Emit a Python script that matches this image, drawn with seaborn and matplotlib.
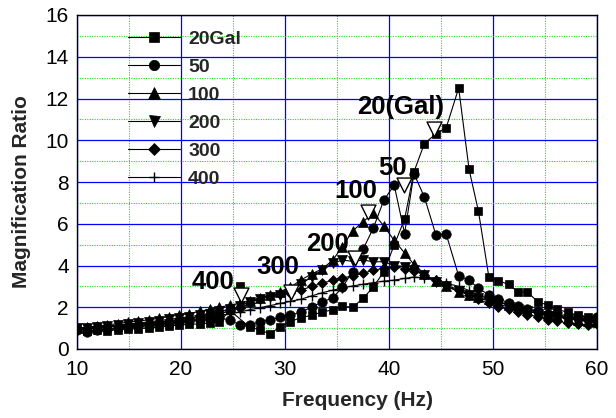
import numpy as np
import pandas as pd
import matplotlib
matplotlib.use("Agg")
import matplotlib.pyplot as plt
import seaborn as sns
from matplotlib.ticker import MultipleLocator

# Sweep frequencies (Hz), shared by all input levels
freq = [10.0, 11.0, 11.9, 12.9, 13.9, 14.9, 15.9, 16.9, 17.9, 18.8,
        19.8, 20.8, 21.8, 22.8, 23.7, 24.7, 25.7, 26.6, 27.6, 28.6,
        29.5, 30.5, 31.5, 32.6, 33.6, 34.6, 35.5, 36.5, 37.5, 38.5,
        39.5, 40.5, 41.5, 42.4, 43.4, 44.5, 45.5, 46.7, 47.7, 48.6,
        49.6, 50.5, 51.5, 52.4, 53.3, 54.3, 55.3, 56.2, 57.2, 58.2,
        59.1, 60.0]

# Magnification ratio for each input acceleration (Gal)
gal20 = [1.00, 0.85, 0.90, 0.88, 0.92, 0.95, 0.98, 1.00, 1.05, 1.10,
         1.15, 1.18, 1.20, 1.25, 1.30, 1.85, np.nan, 1.05, 0.91, 0.72,
         1.07, 1.31, 1.50, 1.62, 1.78, 1.87, 2.05, 2.00, 2.42, 2.98,
         3.70, 4.98, 6.22, 8.49, 9.84, 10.30, 10.60, 12.50, 8.60, 6.60,
         3.46, 3.27, 3.10, 2.72, 2.74, 2.26, 2.10, 1.90, 1.75, 1.62,
         1.52, 1.45]
gal20_stray_f = [25.7]
gal20_stray_v = [3.0]

gal50 = [0.90, 0.80, 0.92, 0.98, 1.00, 1.05, 1.08, 1.12, 1.18, 1.22,
         1.28, 1.32, 1.38, 1.45, 1.50, 1.38, 1.15, 1.15, 1.31, 1.39,
         1.52, 1.63, 1.75, 2.02, 2.26, 2.45, 2.95, 3.70, 4.77, 5.80,
         7.13, 7.85, 5.53, 8.40, 7.28, 5.48, 5.50, 3.50, 3.30, 2.90,
         2.60, 2.40, 2.22, 2.05, 1.92, 1.80, 1.70, 1.62, 1.55, 1.50,
         1.45, 1.55]

gal100 = [1.00, 1.05, 1.10, 1.15, 1.22, 1.28, 1.34, 1.40, 1.48, 1.55,
          1.63, 1.70, 1.80, 1.90, 2.00, 2.10, 2.20, 2.32, 2.45, 2.60,
          2.75, 2.95, 3.30, 3.60, 3.85, 4.26, 4.90, 5.65, 6.10, 6.50,
          5.90, 5.20, 4.60, 4.05, 3.60, 3.25, 3.00, 2.75, 2.60, 2.50,
          2.38, 2.25, 2.12, 2.00, 1.88, 1.78, 1.66, 1.56, 1.48, 1.40,
          1.32, 1.30]

gal200 = [1.00, 1.00, 1.05, 1.10, 1.15, 1.20, 1.25, 1.30, 1.36, 1.42,
          1.48, 1.55, 1.62, 1.70, 1.80, 1.90, 2.05, 2.26, 2.40, 2.50,
          2.60, 2.75, 3.10, 3.46, 3.78, 4.10, 4.26, 4.20, 4.26, 4.18,
          4.18, 4.00, 3.95, 3.80, 3.55, 3.20, 3.00, 2.80, 2.60, 2.45,
          2.30, 2.15, 2.02, 1.90, 1.80, 1.70, 1.60, 1.52, 1.45, 1.38,
          1.32, 1.25]

gal300 = [1.00, 1.00, 1.05, 1.08, 1.10, 1.15, 1.20, 1.25, 1.30, 1.35,
          1.40, 1.48, 1.55, 1.62, 1.70, 1.80, 1.95, 2.20, 2.40, 2.55,
          2.65, 2.70, 2.82, 3.00, 3.15, 3.30, 3.40, 3.50, 3.62, 3.78,
          3.86, 3.94, 3.85, 3.75, 3.54, 3.30, 3.05, 2.85, 2.60, 2.38,
          2.18, 2.02, 1.90, 1.79, 1.65, 1.55, 1.40, 1.35, 1.23, 1.18,
          1.15, 1.20]

gal400 = [1.00, 1.02, 1.05, 1.08, 1.10, 1.13, 1.16, 1.20, 1.25, 1.30,
          1.35, 1.40, 1.46, 1.52, 1.60, 1.68, 1.78, 1.88, 1.98, 2.08,
          2.18, 2.28, 2.38, 2.55, 2.70, 2.82, 2.92, 3.02, 3.10, 3.18,
          3.25, 3.30, 3.38, 3.45, 3.40, 3.30, 3.15, 3.00, 2.80, 2.60,
          2.40, 2.25, 2.10, 1.98, 1.86, 1.76, 1.66, 1.58, 1.50, 1.44,
          1.40, 1.38]

series_names = ["20Gal", "50", "100", "200", "300", "400"]
series_values = [gal20, gal50, gal100, gal200, gal300, gal400]

# Resonance peaks of each level (open triangles) and their labels
peak_labels = ["20(Gal)", "50", "100", "200", "300", "400"]
peak_f = [44.3, 41.4, 38.0, 36.7, 30.6, 25.8]
peak_v = [10.55, 7.85, 6.57, 4.34, 2.74, 2.58]

# Label placement in data coordinates
label_xy = [(41.15, 11.58), (40.3, 8.68), (36.8, 7.56),
            (34.1, 5.02), (29.3, 3.92), (23.1, 3.20)]

marker_styles = {"20Gal": ("s", 6.2), "50": ("o", 6.8), "100": ("^", 7.2),
                 "200": ("v", 7.2), "300": ("D", 5.2), "400": ("+", 7.0)}

sns.set_style("white")
plt.rcParams["font.family"] = ["Liberation Sans", "DejaVu Sans"]

fig = plt.figure(figsize=(6.16, 4.18), dpi=100)
ax = fig.add_axes([77 / 616, 1 - 349 / 418, 520 / 616, 334 / 418])

for name, vals in zip(series_names, series_values):
    df = pd.DataFrame({"f": freq, "v": vals}).dropna()
    mk, ms = marker_styles[name]
    sns.lineplot(data=df, x="f", y="v", ax=ax, estimator=None, sort=False,
                 color="black", lw=0.8, marker=mk, markersize=ms,
                 markerfacecolor="black", markeredgecolor="black",
                 markeredgewidth=1.0 if mk == "+" else 0.5, label=name,
                 zorder=3)

sns.scatterplot(x=gal20_stray_f, y=gal20_stray_v, ax=ax, marker="s", s=40,
                color="black", edgecolor="black", linewidth=0.5, zorder=3)

sns.scatterplot(x=peak_f, y=peak_v, ax=ax, marker="v", s=115,
                facecolor="white", edgecolor="black", linewidth=1.0,
                zorder=5)

for text, (lx, ly) in zip(peak_labels, label_xy):
    ax.text(lx, ly, text, ha="center", va="center", fontsize=18.5,
            fontweight="bold", color="black", zorder=6)

ax.set_xlim(10, 60)
ax.set_ylim(0, 16)
ax.xaxis.set_major_locator(MultipleLocator(10))
ax.xaxis.set_minor_locator(MultipleLocator(5))
ax.yaxis.set_major_locator(MultipleLocator(2))
ax.yaxis.set_minor_locator(MultipleLocator(1))

ax.set_axisbelow(True)
ax.grid(which="major", color="#0000ff", ls="-", lw=0.9)
ax.grid(which="minor", color="#22dd22", ls=(0, (1, 1.2)), lw=0.8)

ax.tick_params(which="both", direction="in", top=False, right=False,
               labelsize=15, colors="black")
ax.tick_params(which="major", length=5, width=1.0)
ax.tick_params(which="minor", length=3, width=0.8)
ax.tick_params(axis="y", pad=6)
ax.tick_params(axis="x", pad=8)

for sp in ax.spines.values():
    sp.set_color("black")
    sp.set_linewidth(1.0)

ax.set_xlabel("Frequency (Hz)", fontsize=15, fontweight="bold")
ax.set_ylabel("Magnification Ratio", fontsize=15, fontweight="bold")
ax.xaxis.set_label_coords(0.54, -0.125)
ax.yaxis.set_label_coords(-0.088, 0.47)

ax.legend(loc="upper left", bbox_to_anchor=(0.098, 0.954), frameon=False,
          prop={"weight": "bold", "size": 14}, handlelength=2.7,
          handletextpad=0.4, labelspacing=0.53, borderpad=0,
          borderaxespad=0, markerscale=1.1)

fig.savefig("out.png", dpi=100)
